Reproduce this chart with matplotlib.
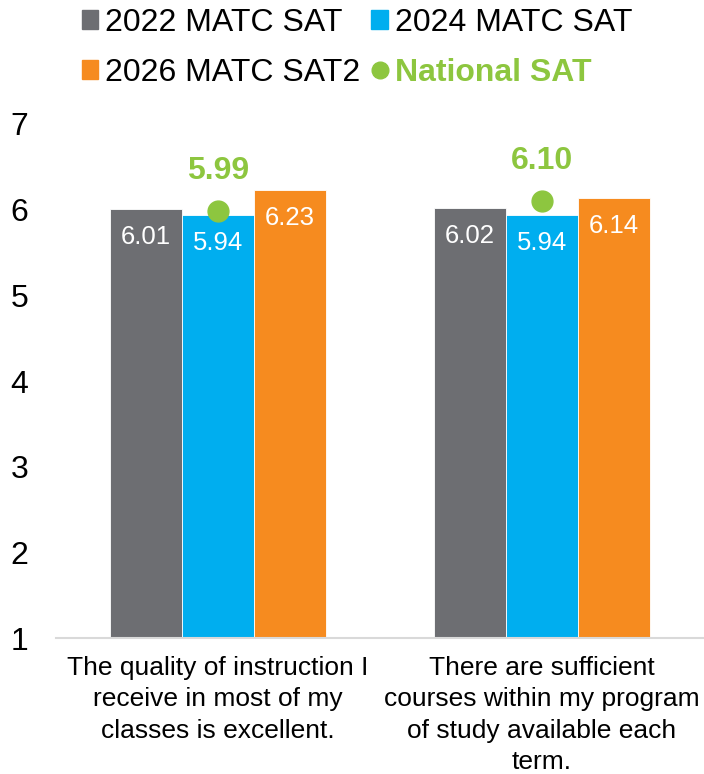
import matplotlib
matplotlib.use("Agg")
import matplotlib.pyplot as plt
from matplotlib.patches import Patch
from matplotlib.lines import Line2D
import numpy as np

plt.rcParams['font.family'] = ['Liberation Sans', 'DejaVu Sans']

categories = ["The quality of instruction I\nreceive in most of my\nclasses is excellent.",
              "There are sufficient\ncourses within my program\nof study available each\nterm."]
series_names = ["2022 MATC SAT", "2024 MATC SAT", "2026 MATC SAT2"]
sat_2022 = [6.01, 6.02]
sat_2024 = [5.94, 5.94]
sat_2026 = [6.23, 6.14]
national = [5.99, 6.10]
national_name = "National SAT"

colors = ["#6d6e72", "#00aeef", "#f68b1f"]
green = "#8dc63f"

fig = plt.figure(figsize=(7.04, 7.74), dpi=100)
ax = fig.add_axes([0.0795, 0.1757, 0.9205, 0.6641])

x = np.arange(len(categories))
w = 0.222
for i, vals in enumerate([sat_2022, sat_2024, sat_2026]):
    xs = x + (i - 1) * w
    ax.bar(xs, [v - 1 for v in vals], width=w, bottom=1, color=colors[i],
           edgecolor="white", linewidth=0.6)
    for xi, v in zip(xs, vals):
        ax.annotate("%.2f" % v, (xi, v), xytext=(0, -28), textcoords="offset pixels",
                    ha="center", va="center", color="white", fontsize=18.5)

ax.plot(x, national, "o", color=green, ms=15, zorder=5)
for xi, v in zip(x, national):
    ax.annotate("%.2f" % v, (xi, v), xytext=(0, 40), textcoords="offset pixels",
                ha="center", va="center", color=green, fontsize=23, fontweight="bold")

ax.set_xlim(-0.5, 1.5)
ax.set_ylim(1, 7)
ax.set_yticks(range(1, 8))
ax.set_xticks(x)
ax.set_xticklabels(categories, fontsize=19, linespacing=1.38)
ax.tick_params(axis="y", length=0, pad=20, labelsize=23)
ax.tick_params(axis="x", length=0, pad=13)
for s in ["top", "right", "left"]:
    ax.spines[s].set_visible(False)
ax.spines["bottom"].set_color("#d9d9d9")
ax.spines["bottom"].set_linewidth(1.5)

handles = [Patch(color=colors[0]), Patch(color=colors[2]),
           Patch(color=colors[1]),
           Line2D([], [], marker="o", color=green, ls="none", ms=12)]
labels = [series_names[0], series_names[2], series_names[1], national_name]
leg = fig.legend(handles, labels, ncol=2, loc="upper left", bbox_to_anchor=(0.075, 1.027),
                 frameon=False, fontsize=23, handlelength=0.53, handleheight=0.53,
                 handletextpad=0.2, columnspacing=0.35, labelspacing=0.62)
leg.get_texts()[3].set_color(green)
leg.get_texts()[3].set_fontweight("bold")

fig.savefig("out.png", dpi=100)
